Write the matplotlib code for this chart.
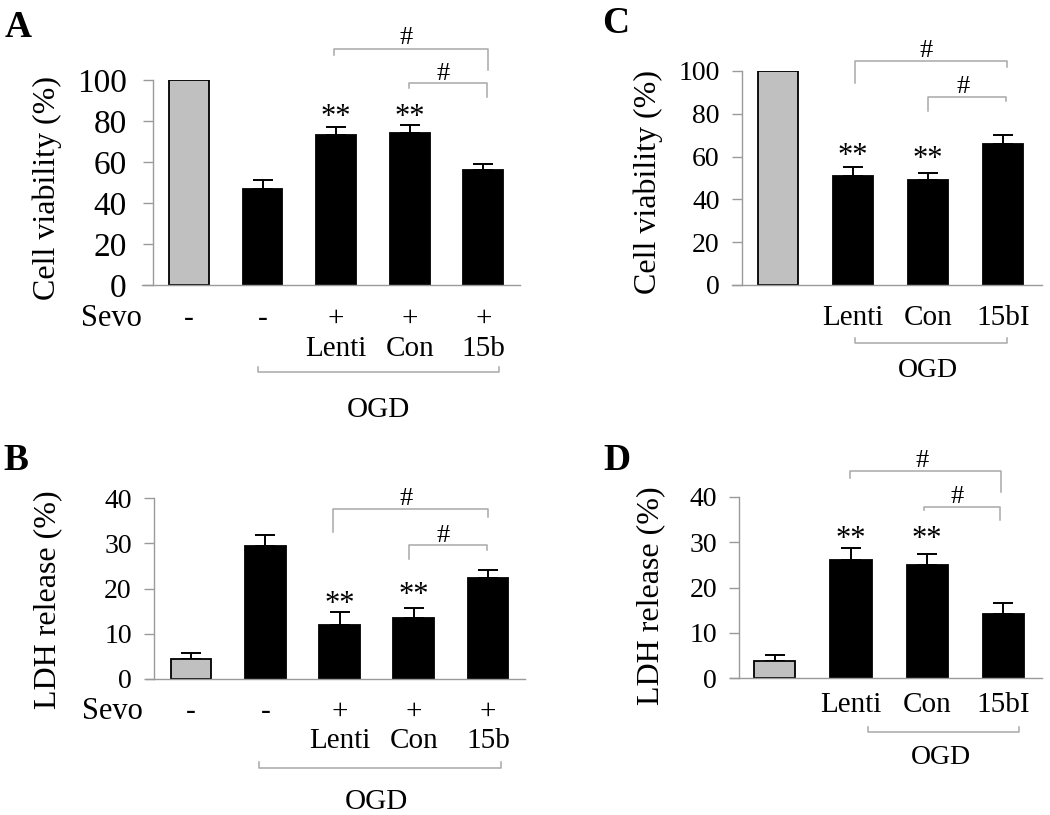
import matplotlib
matplotlib.use("Agg")
import matplotlib.pyplot as plt
from matplotlib.transforms import Affine2D, blended_transform_factory

plt.rcParams['font.family'] = ['Liberation Serif', 'DejaVu Serif']

W, H = 1050, 815

# ---------------- data ----------------
a_sevo = ["-", "-", "+", "+", "+"]
a_labels = ["", "", "Lenti", "Con", "15b"]
a_values = [100, 47, 73, 74, 56]
a_errors = [0, 4, 4, 4, 3]

b_sevo = ["-", "-", "+", "+", "+"]
b_labels = ["", "", "Lenti", "Con", "15b"]
b_values = [4.4, 29.3, 12, 13.4, 22.3]
b_errors = [1.3, 2.6, 2.7, 2.3, 1.7]

c_labels = ["", "Lenti", "Con", "15bI"]
c_values = [100, 51, 49, 66]
c_errors = [0, 4, 3.5, 4]

d_labels = ["", "Lenti", "Con", "15bI"]
d_values = [3.8, 26, 25, 14.2]
d_errors = [1.3, 2.8, 2.3, 2.4]

ylabel_cv = "Cell viability (%)"
ylabel_ldh = "LDH release (%)"
a_yticks = [0, 20, 40, 60, 80, 100]
c_yticks = [0, 20, 40, 60, 80, 100]
b_yticks = [0, 10, 20, 30, 40]
d_yticks = [0, 10, 20, 30, 40]

fig = plt.figure(figsize=(W / 100, H / 100), dpi=100)
pix = Affine2D().scale(1, -1).translate(0, H)  # pixel coords from top-left

AXIS_GREY = '#9a9a9a'
BR_GREY = '#a8a8a8'
STAR_FS = 22
HASH_FS = 19


def make_axes(x0, x1, ytop, ybot):
    return fig.add_axes([x0 / W, (H - ybot) / H, (x1 - x0) / W, (ybot - ytop) / H])


def panel(ax, values, errors, yticks, ylabel, xlim, spine_x, width, tick_fs, tick_pad,
          ylab_xy):
    n = len(values)
    x = list(range(n))
    colors = ['#c0c0c0'] + ['black'] * (n - 1)
    ax.bar(x, values, width=width, color=colors, edgecolor='black', linewidth=1.3, zorder=2)
    ex = [i for i in x if errors[i] > 0]
    ax.errorbar(ex, [values[i] for i in ex],
                yerr=[[0] * len(ex), [errors[i] for i in ex]],
                fmt='none', ecolor='black', elinewidth=1.4, capsize=7, capthick=1.4, zorder=1)
    ax.set_xlim(*xlim)
    ax.set_ylim(yticks[0], yticks[-1])
    ax.set_yticks(yticks)
    ax.set_xticks([])
    for s in ('top', 'right'):
        ax.spines[s].set_visible(False)
    ax.spines['left'].set_position(('data', spine_x))
    ax.spines['left'].set_color(AXIS_GREY)
    ax.spines['bottom'].set_color(AXIS_GREY)
    ax.spines['left'].set_linewidth(1.0)
    ax.spines['bottom'].set_linewidth(1.0)
    ax.tick_params(axis='y', direction='out', length=7, width=1.0, color=AXIS_GREY,
                   labelsize=tick_fs, pad=tick_pad, labelcolor='black')
    ax.set_ylabel(ylabel, fontsize=23)
    ax.yaxis.set_label_coords(ylab_xy[0], ylab_xy[1], transform=pix)
    ax.patch.set_visible(False)
    return blended_transform_factory(ax.transData, pix)


def bracket(ax, tr, xl, xr, y, yl, yr, color=BR_GREY):
    ax.plot([xl, xl, xr, xr], [yl, y, y, yr], color=color, lw=1.1,
            transform=tr, clip_on=False, zorder=3)


def txt(ax, tr, x, y, s, fs, ha='center'):
    ax.text(x, y, s, transform=tr, fontsize=fs, ha=ha, va='baseline', clip_on=False)


# ---------------- Panel A ----------------
axA = make_axes(142, 520, 80, 285)
trA = panel(axA, a_values, a_errors, a_yticks, ylabel_cv, (-0.64, 4.50), -0.49, 0.54,
            24, 12, (62, 188))
for i, s in enumerate(a_sevo):
    txt(axA, trA, i, 326, s, 21)
for i, s in enumerate(a_labels):
    if s:
        txt(axA, trA, i, 356, s, 21)
axA.text(142, 326, "Sevo", transform=pix, fontsize=22, ha='right', va='baseline')
for i in (2, 3):
    txt(axA, trA, i, 125, "**", STAR_FS)
bracket(axA, trA, 1.97, 4.07, 49, 55, 70)
txt(axA, trA, 2.95, 44, "#", HASH_FS)
bracket(axA, trA, 2.99, 4.05, 83, 88, 97)
txt(axA, trA, 3.46, 80, "#", HASH_FS)
bracket(axA, trA, 0.94, 4.22, 372, 367, 367)
txt(axA, trA, 2.57, 417, "OGD", 21)
fig.text(5, 37, "A", transform=pix, fontsize=27, fontweight='bold', ha='left', va='baseline')

# ---------------- Panel B ----------------
axB = make_axes(146, 525, 498, 679)
trB = panel(axB, b_values, b_errors, b_yticks, ylabel_ldh, (-0.606, 4.498), -0.498, 0.55,
            20, 9, (62, 600))
for i, s in enumerate(b_sevo):
    txt(axB, trB, i, 719, s, 21)
for i, s in enumerate(b_labels):
    if s:
        txt(axB, trB, i, 748, s, 21)
axB.text(143, 719, "Sevo", transform=pix, fontsize=22, ha='right', va='baseline')
txt(axB, trB, 2, 612, "**", STAR_FS)
txt(axB, trB, 3, 603, "**", STAR_FS)
bracket(axB, trB, 1.91, 4.0, 509, 532, 517)
txt(axB, trB, 2.9, 505, "#", HASH_FS)
bracket(axB, trB, 2.94, 3.99, 545, 559, 550)
txt(axB, trB, 3.39, 542, "#", HASH_FS)
bracket(axB, trB, 0.92, 4.18, 768, 762, 762)
txt(axB, trB, 2.5, 809, "OGD", 21)
fig.text(3, 470, "B", transform=pix, fontsize=27, fontweight='bold', ha='left', va='baseline')

# ---------------- Panel C ----------------
axC = make_axes(732, 1042, 71, 285)
trC = panel(axC, c_values, c_errors, c_yticks, ylabel_cv, (-0.613, 3.52), -0.48, 0.53,
            20, 9, (663, 182))
for i, s in enumerate(c_labels):
    if s:
        txt(axC, trC, i, 325, s, 21)
txt(axC, trC, 1, 164, "**", STAR_FS)
txt(axC, trC, 2, 167, "**", STAR_FS)
bracket(axC, trC, 1.03, 3.05, 61, 83, 67)
txt(axC, trC, 1.97, 57, "#", HASH_FS)
bracket(axC, trC, 2.0, 3.04, 97, 111, 101)
txt(axC, trC, 2.47, 93, "#", HASH_FS)
bracket(axC, trC, 1.03, 3.05, 343, 338, 338)
txt(axC, trC, 2.0, 377, "OGD", 20)
fig.text(602, 33, "C", transform=pix, fontsize=27, fontweight='bold', ha='left', va='baseline')

# ---------------- Panel D ----------------
axD = make_axes(730, 1042, 497, 678)
trD = panel(axD, d_values, d_errors, d_yticks, ylabel_ldh, (-0.59, 3.51), -0.47, 0.54,
            20, 9, (665, 596))
for i, s in enumerate(d_labels):
    if s:
        txt(axD, trD, i, 712, s, 21)
txt(axD, trD, 1, 547, "**", STAR_FS)
txt(axD, trD, 2, 547, "**", STAR_FS)
bracket(axD, trD, 0.99, 2.97, 471, 478, 492)
txt(axD, trD, 1.93, 467, "#", HASH_FS)
bracket(axD, trD, 1.96, 2.96, 507, 510, 520)
txt(axD, trD, 2.39, 503, "#", HASH_FS)
bracket(axD, trD, 1.22, 3.21, 732, 727, 727)
txt(axD, trD, 2.18, 764, "OGD", 20)
fig.text(603, 470, "D", transform=pix, fontsize=27, fontweight='bold', ha='left', va='baseline')

fig.savefig("out.png", dpi=100)
